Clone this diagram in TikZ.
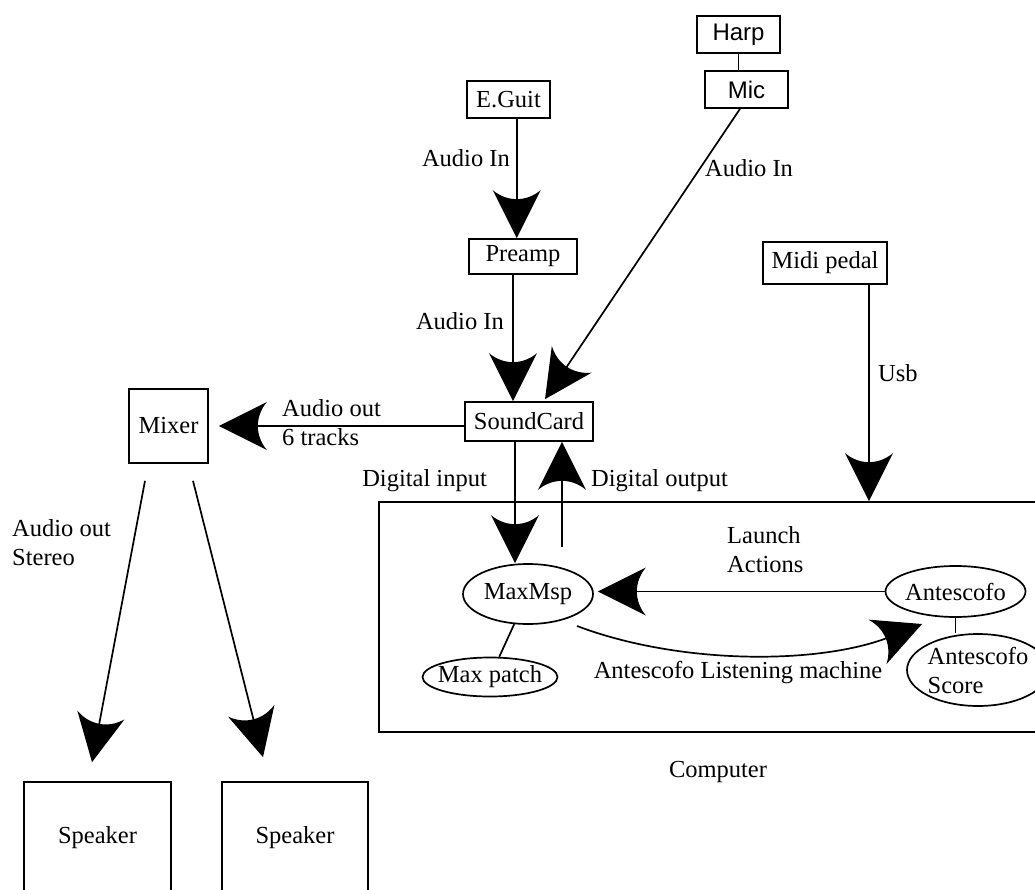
\documentclass[tikz,border=0pt]{standalone}
\usepackage{fontspec}
\setmainfont{Liberation Serif}
\newfontfamily\arialf{Liberation Sans}
\usetikzlibrary{arrows.meta,shapes.geometric,calc}
\pgfdeclarearrow{
  name = Concave,
  parameters = {\the\pgfarrowlength,\the\pgfarrowwidth},
  setup code = {
    \pgfarrowssettipend{\pgfarrowlength}
    \pgfarrowssetlineend{.3\pgfarrowlength}
    \pgfarrowshullpoint{\pgfarrowlength}{0pt}
    \pgfarrowsupperhullpoint{0pt}{.5\pgfarrowwidth}
    \pgfarrowssavethe\pgfarrowlength
    \pgfarrowssavethe\pgfarrowwidth
  },
  drawing code = {
    \pgfpathmoveto{\pgfpoint{\pgfarrowlength}{0pt}}
    \pgfpathlineto{\pgfpoint{0pt}{.5\pgfarrowwidth}}
    \pgfpathcurveto{\pgfpoint{.25\pgfarrowlength}{.2\pgfarrowwidth}}{\pgfpoint{.25\pgfarrowlength}{-.2\pgfarrowwidth}}{\pgfpoint{0pt}{-.5\pgfarrowwidth}}
    \pgfpathclose
    \pgfusepathqfill
  },
  defaults = {length=48pt, width=48pt}
}
\begin{document}
\begin{tikzpicture}[x=1pt,y=-1pt,
  every node/.style={font=\fontsize{24.5}{29}\selectfont},
  box/.style={draw, line width=1.7pt, rectangle, inner sep=0pt},
  sansbox/.style={box, font=\arialf\fontsize{24}{29}\selectfont},
  oval/.style={draw, line width=1.7pt, ellipse, inner sep=-30pt},
  arr/.style={line width=1.7pt, -{Concave}},
  ln/.style={line width=1.7pt},
  lbl/.style={inner sep=0pt}]
\clip (0,0) rectangle (1035,890);
% boxes
\node[sansbox, minimum width=83pt, minimum height=37pt] (harp) at (738.5,34.5) {Harp};
\node[sansbox, minimum width=83pt, minimum height=37pt] (mic) at (746.5,89.5) {Mic\hspace{15pt}};
\node[box, minimum width=83pt, minimum height=37pt] (eguit) at (508.5,99.5) {E.Guit};
\node[box, minimum width=108pt, minimum height=35pt] (preamp) at (523,256.5) {Preamp};
\node[box, minimum width=128pt, minimum height=39pt] (sound) at (529,421.5) {SoundCard};
\node[box, minimum width=124pt, minimum height=42pt] (midi) at (825,263) {Midi pedal};
\node[box, minimum width=79pt, minimum height=74pt] (mixer) at (168.5,426) {Mixer};
\node[box, minimum width=147pt, minimum height=112pt] (spkL) at (97.5,838) {Speaker};
\node[box, minimum width=146pt, minimum height=112pt] (spkR) at (295,838) {Speaker};
\node[box, minimum width=666pt, minimum height=230pt] (computer) at (712,617) {};
\node[lbl] (complbl) at (718,772) {Computer};
% ellipses
\node[oval, minimum width=130pt, minimum height=60pt] (maxmsp) at (528,594) {MaxMsp};
\node[oval, minimum width=135pt, minimum height=39pt] (maxpatch) at (490,677) {Max patch};
\node[oval, minimum width=140pt, minimum height=51pt] (ante) at (955.5,591.5) {Antescofo};
\node[oval, minimum width=142pt, minimum height=72pt, align=left] (score) at (978,670) {Antescofo\\Score};
% connectors
\draw[ln] (harp.south) -- (harp.south |- mic.north);
\coordinate (a1) at ($(eguit.south)+(8.2,0)$);
\draw[arr] (a1) -- (a1 |- preamp.north);
\node[lbl, anchor=east] (l1) at (510,158) {Audio In};
\coordinate (a2) at ($(preamp.south)+(-10,0)$);
\draw[arr] (a2) -- (a2 |- sound.north);
\node[lbl, anchor=east] (l2) at (504,321) {Audio In};
\coordinate (a3) at ($(mic.south)+(-6.5,0)$);
\coordinate (a3e) at ($(sound.north)+(16,-2)$);
\draw[arr] (a3) -- (a3e);
\node[lbl, anchor=west] (l3) at (705,168) {Audio In};
\coordinate (a4) at ($(midi.south)+(44,0)$);
\draw[arr] (a4) -- (a4 |- computer.north);
\node[lbl, anchor=west] (l4) at (878,373) {Usb};
\draw[arr, shorten >=10pt] (sound.west |- mixer.east) -- (mixer.east);
\node[lbl, anchor=west, align=left] (l5) at (282,422.5) {Audio out\\6 tracks};
\coordinate (a6) at ($(sound.south)+(-14,0)$);
\draw[arr] (a6) -- (a6 |- maxmsp.north);
\node[lbl, anchor=east] (l6) at (487,481) {Digital input};
\coordinate (a7) at (562,547);
\draw[arr] (a7) -- (a7 |- sound.south);
\node[lbl, anchor=west] (l7) at (591,481) {Digital output};
\draw[arr, shorten >=4pt] (ante.west) -- (maxmsp.east |- ante.west);
\node[lbl, anchor=west, align=left] (l8) at (727,549.5) {Launch\\Actions};
\coordinate (a9s) at ($(maxmsp.center)+(49,32)$);
\coordinate (a9e) at ($(ante.center)+(-33.5,32.5)$);
\draw[arr] (a9s) .. controls (680,665) and (820,665) .. (a9e);
\node[lbl] (l9) at (738,673) {Antescofo Listening machine};
\draw[ln] (maxmsp) -- (maxpatch);
\draw[ln] (ante.south) -- (ante.south |- score.north);
\coordinate (m1) at ($(mixer.south)+(-23.5,17)$);
\coordinate (s1) at ($(spkL.north)+(-5.5,-19)$);
\draw[arr] (m1) -- (s1);
\coordinate (m2) at ($(mixer.south)+(24.5,17)$);
\coordinate (s2) at ($(spkR.north)+(-32,-24)$);
\draw[arr] (m2) -- (s2);
\node[lbl, anchor=west, align=left] (l10) at (12,542.5) {Audio out\\Stereo};
\end{tikzpicture}
\end{document}
